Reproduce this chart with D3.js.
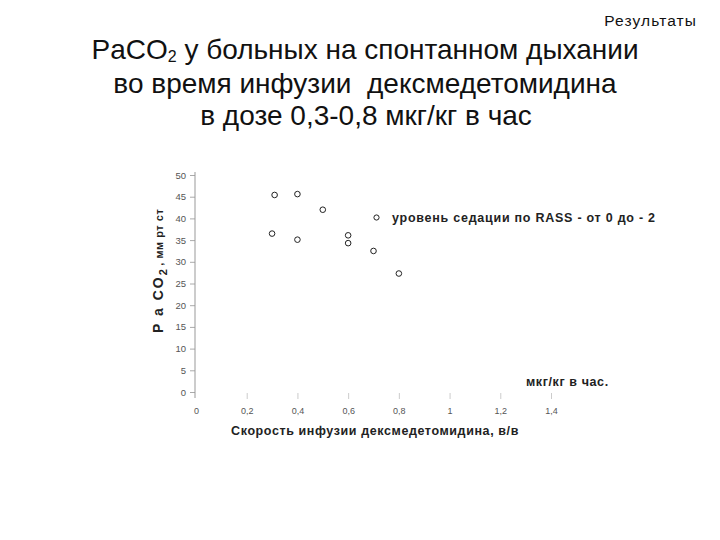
<!DOCTYPE html>
<html><head><meta charset="utf-8">
<script src="https://cdn.jsdelivr.net/npm/d3@7"></script>
<style>body{margin:0;background:#fff}svg{display:block}</style>
</head><body>
<svg id="c" width="720" height="540"></svg>
<script>
const doseX = [0.31, 0.40, 0.50, 0.30, 0.40, 0.60, 0.60, 0.70, 0.80];
const paco2Y = [45.4, 45.6, 42.0, 36.5, 35.1, 36.1, 34.3, 32.5, 27.3];
const xTicks = [0, 0.2, 0.4, 0.6, 0.8, 1, 1.2, 1.4];
const yTicks = [0, 5, 10, 15, 20, 25, 30, 35, 40, 45, 50];
const titleLines = ["у больных на спонтанном дыхании", "во время инфузии  дексмедетомидина", "в дозе 0,3-0,8 мкг/кг в час"];
const legendLabel = "уровень седации по RASS - от 0 до - 2";

const svg = d3.select("#c");
const x = d3.scaleLinear().domain([0, 1.4]).range([196, 551]);
const y = d3.scaleLinear().domain([0, 50]).range([392, 175]);
const fmt = d => String(d).replace(".", ",");
const FF = "Arial, Liberation Sans, sans-serif";

// header
svg.append("text").attr("x", 697).attr("y", 26).attr("text-anchor", "end")
  .attr("font-family", FF).attr("font-size", 15.5).attr("letter-spacing", 1.1).attr("fill", "#111").text("Результаты");

const t1 = svg.append("text").attr("x", 365).attr("y", 59).attr("text-anchor", "middle")
  .attr("font-family", FF).attr("font-size", 28).attr("fill", "#111");
t1.append("tspan").text("PaCO");
t1.append("tspan").attr("font-size", 16).attr("dy", 3).text("2");
t1.append("tspan").attr("dy", -3).text(" " + titleLines[0]);
svg.append("text").attr("x", 365).attr("y", 93).attr("text-anchor", "middle")
  .attr("font-family", FF).attr("font-size", 28).attr("fill", "#111")
  .style("white-space", "pre").text(titleLines[1]);
svg.append("text").attr("x", 366).attr("y", 125).attr("text-anchor", "middle")
  .attr("font-family", FF).attr("font-size", 28).attr("fill", "#111").text(titleLines[2]);

// y axis
const ya = svg.append("g").attr("transform", "translate(195,0)")
  .call(d3.axisLeft(y).tickValues(yTicks).tickSize(5).tickPadding(4).tickFormat(d => d));
ya.select(".domain").remove();
ya.append("line").attr("x1", 0).attr("x2", 0).attr("y1", 172).attr("y2", 398).attr("stroke", "#999");
ya.selectAll(".tick line").attr("stroke", "#aaa");
ya.selectAll(".tick text").attr("fill", "#555").attr("font-size", 9.5).attr("font-family", FF);

// x axis ticks (no visible axis line)
const xa = svg.append("g").attr("transform", "translate(0,393)")
  .call(d3.axisBottom(x).tickValues(xTicks).tickSize(6).tickPadding(9).tickFormat(fmt));
xa.select(".domain").remove();
xa.selectAll(".tick line").attr("stroke", "#ccc");
xa.selectAll(".tick").filter(d => d === 0).select("line").remove();
xa.selectAll(".tick text").attr("fill", "#555").attr("font-size", 9).attr("font-family", FF);

// axis titles
svg.append("text").attr("x", 375).attr("y", 435).attr("text-anchor", "middle")
  .attr("font-family", FF).attr("font-size", 12.5).attr("font-weight", "bold")
  .attr("fill", "#222").attr("letter-spacing", 0.6).text("Скорость инфузии дексмедетомидина, в/в");
svg.append("text").attr("x", 526).attr("y", 386)
  .attr("font-family", FF).attr("font-size", 12.5).attr("font-weight", "bold")
  .attr("fill", "#222").attr("letter-spacing", 0.6).text("мкг/кг в час.");

const yl = svg.append("text").attr("transform", "translate(163,333) rotate(-90)")
  .attr("font-family", FF).attr("font-weight", "bold").attr("fill", "#222");
yl.append("tspan").attr("font-size", 14).attr("letter-spacing", 2).text("P a CO");
yl.append("tspan").attr("font-size", 11).attr("dy", 4).text("2");
yl.append("tspan").attr("font-size", 11).attr("dy", -4).attr("letter-spacing", 0.5).text(" , мм рт ст");

// points
svg.append("g").selectAll("circle").data(doseX).join("circle")
  .attr("cx", d => x(d)).attr("cy", (d, i) => y(paco2Y[i])).attr("r", 2.8)
  .attr("fill", "none").attr("stroke", "#222").attr("stroke-width", 1);

// legend
svg.append("circle").attr("cx", 376.5).attr("cy", 217.5).attr("r", 2.6)
  .attr("fill", "none").attr("stroke", "#222").attr("stroke-width", 1);
svg.append("text").attr("x", 392).attr("y", 221.5)
  .attr("font-family", FF).attr("font-size", 12.5).attr("font-weight", "bold")
  .attr("fill", "#222").attr("letter-spacing", 0.75).text(legendLabel);
</script>
</body></html>
